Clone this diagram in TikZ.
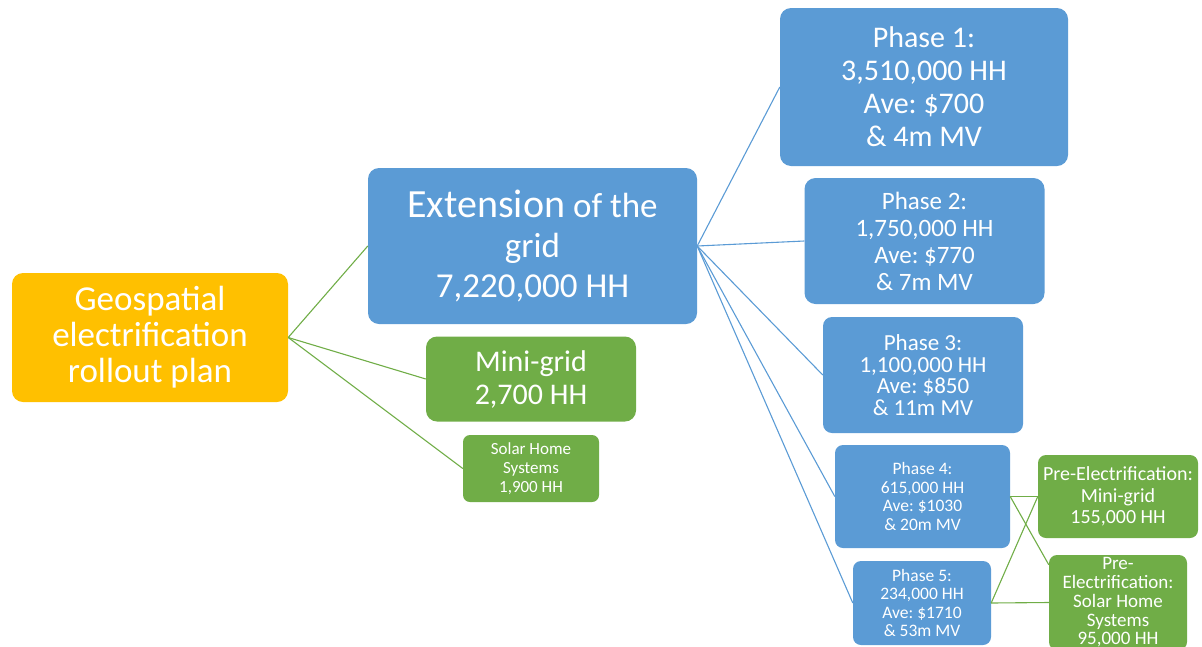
\documentclass[tikz,border=0pt]{standalone}
\usepackage{fontspec}
\setmainfont{Carlito}
\usepackage{xcolor}
\definecolor{planorange}{HTML}{FFC000}
\definecolor{planblue}{HTML}{5B9BD5}
\definecolor{plangreen}{HTML}{70AD47}
\NewDocumentCommand\fs{mm}{\fontsize{#1}{#2}\selectfont}
\frenchspacing

\begin{document}
\begin{tikzpicture}[x=1pt,y=-1pt,
        box/.style={rounded corners=11pt,text=white,align=center,inner sep=0pt},
        orangebox/.style={box,fill=planorange},
        bluebox/.style={box,fill=planblue},
        greenbox/.style={box,fill=plangreen},
        blueline/.style={planblue,line width=1.1pt},
        greenline/.style={plangreen,line width=1.1pt}]
            \useasboundingbox (0,0) rectangle (1202,646);
            \node[orangebox,minimum width=276pt,minimum height=129pt,font=\fs{35}{36}] (geo) at (150,337.5) {Geospatial\\electrification\\rollout plan};
            \node[bluebox,minimum width=329pt,minimum height=156pt,font=\fs{35}{40}] (ext) at (532.5,246) {{\fs{40}{40}Extension} of the\\grid\\7,220,000 HH};
            \node[greenbox,minimum width=210pt,minimum height=85pt,font=\fs{30}{33}] (mini) at (531,379) {Mini-grid\\2,700 HH};
            \node[greenbox,rounded corners=7pt,minimum width=136pt,minimum height=67pt,font=\fs{17}{19}] (shs) at (531,468.5) {Solar Home\\Systems\\1,900 HH};
            \node[bluebox,minimum width=288pt,minimum height=158pt,font=\fs{30}{33}] (ph1) at (924,87) {Phase 1:\\3,510,000 HH\\Ave: \$700\\\& 4m MV};
            \node[bluebox,minimum width=240pt,minimum height=126pt,font=\fs{25}{27}] (ph2) at (924.5,241) {Phase 2:\\1,750,000 HH\\Ave: \$770\\\& 7m MV};
            \node[bluebox,rounded corners=9pt,minimum width=200pt,minimum height=116pt,font=\fs{23}{21.5}] (ph3) at (923,375) {Phase 3:\\1,100,000 HH\\Ave: \$850\\\& 11m MV};
            \node[bluebox,rounded corners=8pt,minimum width=175pt,minimum height=103pt,font=\fs{17.5}{18.5}] (ph4) at (922.5,496.5) {Phase 4:\\615,000 HH\\Ave: \$1030\\\& 20m MV};
            \node[bluebox,rounded corners=8pt,minimum width=138pt,minimum height=84pt,font=\fs{17.5}{18.5}] (ph5) at (922,603) {Phase 5:\\234,000 HH\\Ave: \$1710\\\& 53m MV};
            \node[greenbox,rounded corners=8pt,minimum width=160pt,minimum height=83pt,font=\fs{20}{21.5}] (pre1) at (1118,496.5) {Pre-Electrification:\\Mini-grid\\155,000 HH};
            \node[greenbox,rounded corners=8pt,minimum width=138pt,minimum height=95pt,font=\fs{19}{18.7}] (pre2) at (1118,602.5) {Pre-\\Electrification:\\Solar Home\\Systems\\95,000 HH};
            \coordinate (pre2in) at ([yshift=-10pt]pre2.north west);
            % first level
            \draw[greenline] (geo.east) -- (ext.west);
            \draw[greenline] (geo.east) -- (mini.west);
            \draw[greenline] (geo.east) -- (shs.west);
            % phases of the grid extension
            \draw[blueline] (ext.east) -- (ph1.west);
            \draw[blueline] (ext.east) -- (ph2.west);
            \draw[blueline] (ext.east) -- (ph3.west);
            \draw[blueline] (ext.east) -- (ph4.west);
            \draw[blueline] (ext.east) -- (ph5.west);
            % pre-electrification
            \draw[greenline] (ph4.east) -- (pre1.west);
            \draw[greenline] (ph4.east) -- (pre2in);
            \draw[greenline] (ph5.east) -- (pre1.west);
            \draw[greenline] (ph5.east) -- (pre2.west);
        \end{tikzpicture}
\end{document}
